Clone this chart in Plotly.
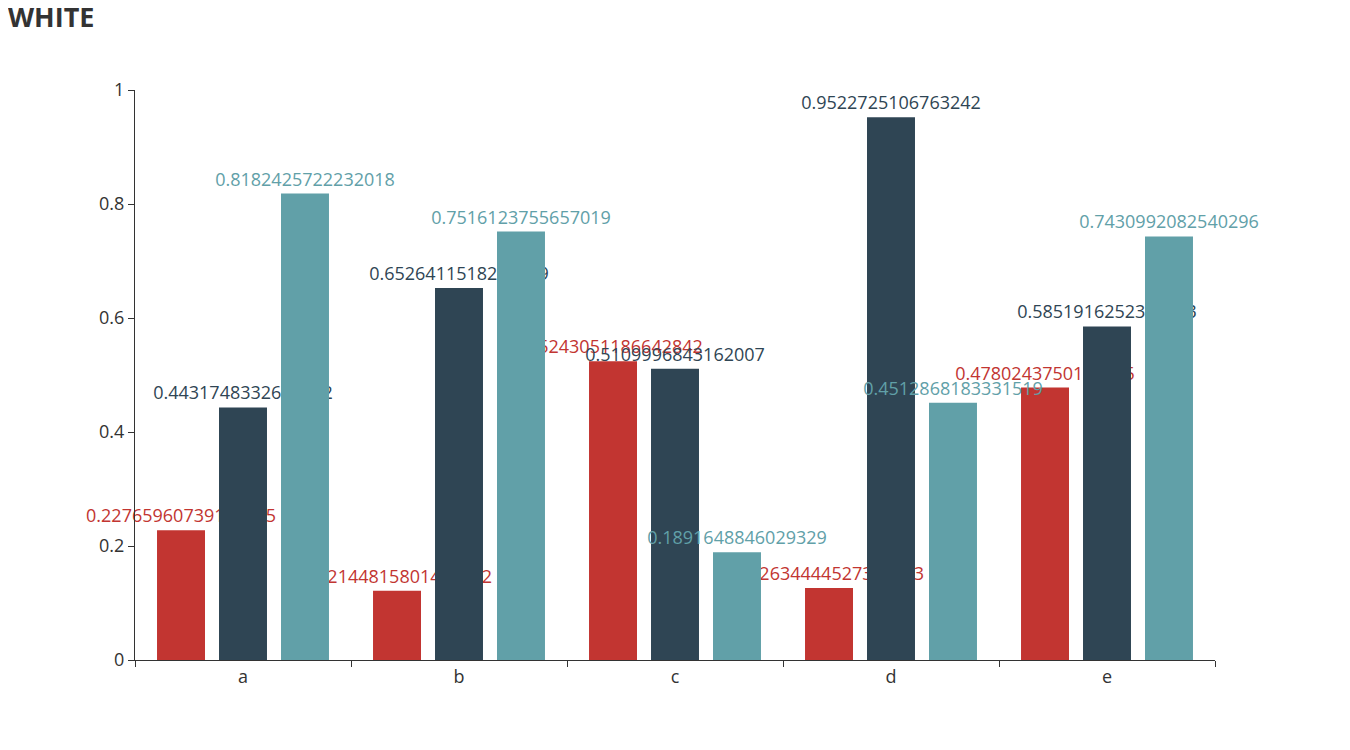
import plotly.graph_objects as go

categories = ["a", "b", "c", "d", "e"]
series_red = [0.22765960739181235, 0.12144815801440512, 0.5243051186642842, 0.12634444527370833, 0.4780243750163645]
series_dark = [0.4431748332601432, 0.6526411518224569, 0.5109996843162007, 0.9522725106763242, 0.5851916252378463]
series_teal = [0.8182425722232018, 0.7516123755657019, 0.1891648846029329, 0.4512868183331519, 0.7430992082540296]
colors = ["#c23531", "#2f4554", "#61a0a8"]
title_text = "WHITE"

FONT = "Open Sans, Noto Sans, sans-serif"

fig = go.Figure()
for vals, col in zip([series_red, series_dark, series_teal], colors):
    fig.add_trace(go.Bar(
        x=categories, y=vals,
        marker=dict(color=col, line=dict(width=0)),
        text=[repr(v) for v in vals],
        texttemplate="%{text}",
        textposition="outside",
        textfont=dict(color=col, size=18, family=FONT),
        constraintext="none",
        cliponaxis=False,
        hoverinfo="skip",
    ))

fig.update_layout(
    width=1342, height=742,
    paper_bgcolor="white", plot_bgcolor="white",
    margin=dict(l=127, r=135, t=82, b=90),
    barmode="group",
    bargap=0.139,
    bargroupgap=0.226,
    showlegend=False,
    title=dict(text="<b>" + title_text + "</b>", xref="container", yref="container",
               x=0.0, xanchor="left", y=1 - 10 / 742, yanchor="middle",
               pad=dict(l=0, t=0, r=0, b=0),
               font=dict(size=27, color="#333", family=FONT)),
    font=dict(family=FONT, color="#333"),
)
fig.update_xaxes(
    showline=True, linecolor="#333", linewidth=1,
    ticks="outside", ticklen=6, tickcolor="#333", tickson="boundaries",
    tickfont=dict(size=18, color="#333"), showgrid=False, zeroline=False,
)
fig.update_yaxes(
    range=[0, 1], dtick=0.2, showline=True, linecolor="#333", linewidth=1,
    ticks="outside", ticklen=6, tickcolor="#333",
    tickfont=dict(size=18, color="#333"), showgrid=False, zeroline=False,
)

fig.write_html("out.html")
